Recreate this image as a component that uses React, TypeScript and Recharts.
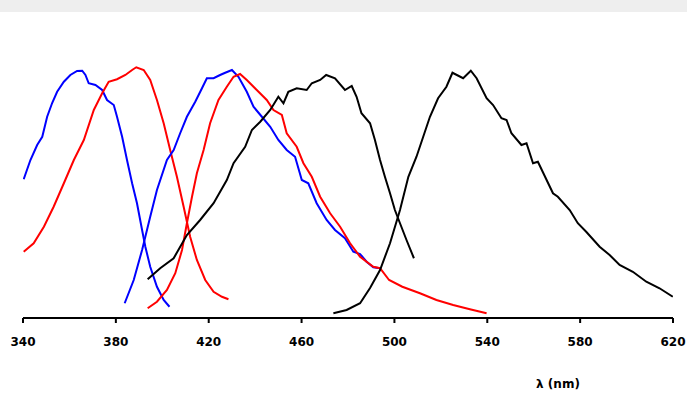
import React from "react";
import { LineChart, Line, XAxis, YAxis } from "recharts";

// wavelength (nm) / relative intensity pairs
const blueExLambda = [340.3, 343.2, 346.1, 348.3, 350.4, 352.6, 354.7, 357.6, 360.4, 363.3, 365.5, 366.9, 368.3, 371.2, 374.1, 376.2, 379.1, 380.5, 382.7, 384.8, 387, 389.1, 391.3, 392.7, 394.8, 397.7, 400.6, 403.1];
const blueExValue = [0.555, 0.632, 0.692, 0.725, 0.805, 0.861, 0.905, 0.945, 0.972, 0.988, 0.989, 0.972, 0.939, 0.932, 0.912, 0.872, 0.852, 0.805, 0.725, 0.632, 0.539, 0.459, 0.352, 0.285, 0.205, 0.125, 0.072, 0.045];

const redExLambda = [340.3, 344.6, 349, 353.2, 357.6, 361.9, 366.2, 370.5, 374.1, 376.9, 380.5, 384.1, 387, 388.8, 392, 394.8, 397.7, 400.6, 403.4, 406.3, 409.2, 412, 414.9, 418.5, 422.1, 425.7, 428.5];
const redExValue = [0.265, 0.299, 0.365, 0.445, 0.539, 0.632, 0.712, 0.832, 0.899, 0.945, 0.955, 0.972, 0.992, 1.003, 0.992, 0.952, 0.872, 0.779, 0.672, 0.565, 0.445, 0.325, 0.232, 0.152, 0.105, 0.085, 0.075];

const blueEmLambda = [383.8, 387.7, 391.3, 394.8, 397.7, 402, 404.9, 407.7, 410.6, 414.2, 417.1, 419.2, 422.1, 424.9, 427.1, 430, 432.8, 436.4, 439.3, 442.9, 446.5, 450, 453.6, 457.2, 460.1, 462.9, 466.5, 470.8, 474.4, 478.7, 482.3, 485.2, 488, 490.9, 493.8];
const blueEmValue = [0.059, 0.152, 0.272, 0.405, 0.512, 0.632, 0.672, 0.739, 0.805, 0.865, 0.919, 0.959, 0.959, 0.972, 0.981, 0.992, 0.965, 0.905, 0.845, 0.805, 0.765, 0.712, 0.672, 0.645, 0.552, 0.539, 0.459, 0.392, 0.352, 0.319, 0.265, 0.256, 0.225, 0.203, 0.199];

const redEmLambda = [393.7, 397.7, 402, 405.6, 408.5, 410.6, 412.8, 414.9, 417.8, 420.6, 424.2, 427.8, 430.7, 433.5, 436.4, 440.7, 445, 447.9, 451.5, 453.6, 457.9, 460.8, 464.4, 468, 472.3, 476.6, 480.9, 485.2, 490.9, 493.8, 497.7, 503.4, 511, 518.1, 525.3, 532.5, 539.7];
const redEmValue = [0.039, 0.065, 0.112, 0.179, 0.272, 0.379, 0.485, 0.579, 0.672, 0.779, 0.872, 0.925, 0.965, 0.976, 0.952, 0.912, 0.872, 0.832, 0.812, 0.739, 0.685, 0.619, 0.565, 0.485, 0.419, 0.365, 0.299, 0.245, 0.205, 0.199, 0.152, 0.125, 0.099, 0.072, 0.052, 0.035, 0.019];

const blackExLambda = [393.7, 399.1, 404.9, 410.6, 416.3, 422.1, 427.8, 430.7, 435.7, 438.6, 442.2, 446.5, 450, 452.2, 454.3, 457.9, 462.2, 464.4, 468, 470.6, 474.4, 478.7, 481.6, 483.7, 485.8, 489.5, 491.6, 493.8, 495.9, 498.1, 500.2, 502.4, 505.2, 508.4];
const blackExValue = [0.155, 0.199, 0.239, 0.332, 0.392, 0.459, 0.552, 0.619, 0.685, 0.752, 0.785, 0.832, 0.885, 0.859, 0.905, 0.919, 0.912, 0.939, 0.952, 0.972, 0.959, 0.912, 0.928, 0.885, 0.819, 0.779, 0.712, 0.632, 0.565, 0.499, 0.432, 0.379, 0.312, 0.239];

const blackEmLambda = [473.7, 479.4, 485.2, 489.5, 493.8, 498.1, 502.4, 506, 509.5, 512.4, 515.3, 518.8, 522.4, 525, 529.6, 532.9, 535.4, 539.7, 542.5, 546.1, 548.3, 550.4, 554.7, 556.9, 559.7, 561.8, 568.3, 570.4, 575.5, 579, 582.6, 588.4, 592.7, 597, 602.7, 608.5, 614.2, 619.9];
const blackEmValue = [0.019, 0.032, 0.059, 0.12, 0.192, 0.299, 0.432, 0.565, 0.645, 0.725, 0.805, 0.879, 0.925, 0.981, 0.959, 0.989, 0.959, 0.879, 0.852, 0.799, 0.792, 0.739, 0.692, 0.699, 0.619, 0.625, 0.499, 0.485, 0.432, 0.379, 0.345, 0.285, 0.252, 0.212, 0.185, 0.145, 0.119, 0.085];

const xTicks = [340, 380, 420, 460, 500, 540, 580, 620];

const toRows = (xs: number[], vs: number[]) => xs.map((x, i) => ({ x, v: vs[i] }));

const series = [
  { name: "blueEx", color: "#0000ff", data: toRows(blueExLambda, blueExValue) },
  { name: "redEx", color: "#ff0000", data: toRows(redExLambda, redExValue) },
  { name: "blueEm", color: "#0000ff", data: toRows(blueEmLambda, blueEmValue) },
  { name: "redEm", color: "#ff0000", data: toRows(redEmLambda, redEmValue) },
  { name: "blackEx", color: "#000000", data: toRows(blackExLambda, blackExValue) },
  { name: "blackEm", color: "#000000", data: toRows(blackEmLambda, blackEmValue) },
];

const AxisTitle = () => (
  <text x={558} y={388} textAnchor="middle" fontFamily="DejaVu Sans" fontWeight="bold" fontSize={12} fill="#000">
    λ (nm)
  </text>
);

export default function App() {
  return (
    <div style={{ position: "absolute", left: 0, top: 0, width: 687, height: 399, background: "#fff" }}>
      <div style={{ height: 12, background: "#eeeeee" }} />
      <div style={{ position: "absolute", left: 0, top: 0 }}>
        <LineChart width={687} height={399} margin={{ top: 43, right: 14, left: 23, bottom: 51 }}>
          <XAxis
            dataKey="x"
            type="number"
            domain={[340, 620]}
            ticks={xTicks}
            allowDataOverflow
            height={30}
            axisLine={{ stroke: "#000", strokeWidth: 2 }}
            tickLine={{ stroke: "#000", strokeWidth: 2 }}
            tickSize={5}
            tickMargin={14}
            tick={{ fill: "#000", fontFamily: "DejaVu Sans", fontWeight: "bold", fontSize: 12 }}
            label={<AxisTitle />}
          />
          <YAxis hide domain={[0, 1.1]} />
          {series.map((s) => (
            <Line
              key={s.name}
              data={s.data}
              dataKey="v"
              type="linear"
              stroke={s.color}
              strokeWidth={2}
              dot={false}
              activeDot={false}
              isAnimationActive={false}
            />
          ))}
        </LineChart>
      </div>
    </div>
  );
}
